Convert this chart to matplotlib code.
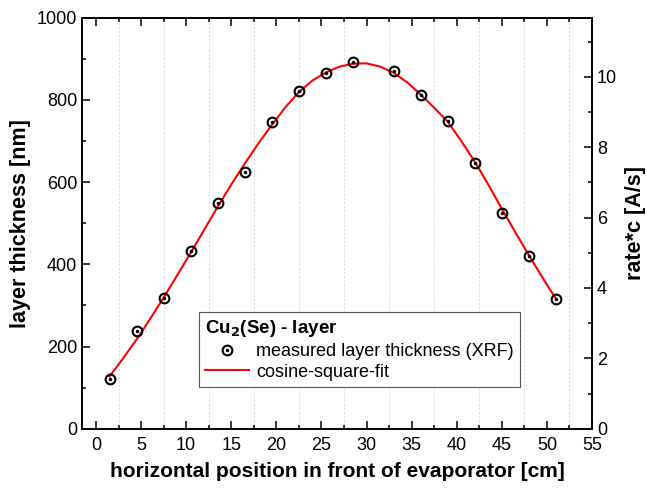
import matplotlib
matplotlib.use("Agg")
import matplotlib.pyplot as plt
from matplotlib.ticker import MultipleLocator

plt.rcParams['font.family'] = ['Liberation Sans', 'DejaVu Sans']

# --- measured data (XRF) ---
pos_mess = [1.5, 4.5, 7.5, 10.5, 13.5, 16.5, 19.5, 22.5, 25.5, 28.5,
            33, 36, 39, 42, 45, 48, 51]
dicke_mess = [120, 238, 318, 432, 548, 625, 747, 822, 866, 891,
              870, 813, 749, 647, 524, 420, 316]

# --- cosine-square fit ---
pos_fit = [1.5, 3, 4.5, 6, 7.5, 9, 10.5, 12, 13.5, 15, 16.5, 18, 19.5, 21,
           22.5, 24, 25.5, 27, 28.5, 30, 31.5, 33, 34.5, 36, 37.5, 39, 40.5,
           42, 43.5, 45, 46.5, 48, 49.5, 51]
dicke_fit = [127, 171, 217, 267, 319, 373, 428, 484, 540, 594, 645, 694, 739,
             782, 819, 847, 867, 881, 888, 889, 881, 866, 843, 813, 781, 747,
             700, 650, 594, 535, 478, 422, 368, 316]

fig = plt.figure(figsize=(6.47, 4.90), dpi=100)
ax = fig.add_axes([82/647, 1-428.7/490, (592-82)/647, (428.7-17.7)/490])

# griglia verticale solo sui minor tick
for xg in [2.5 + 5*i for i in range(11)]:
    ax.axvline(xg, color='#d9d9d9', lw=0.7, ls=(0, (2, 2)), zorder=0)

linea, = ax.plot(pos_fit, dicke_fit, color='red', lw=1.5, zorder=2)
cerchi, = ax.plot(pos_mess, dicke_mess, ls='none', marker='o', ms=7,
                  mfc='none', mec='black', mew=1.5, zorder=3)
punti, = ax.plot(pos_mess, dicke_mess, ls='none', marker='o', ms=1.5,
                 mfc='black', mec='black', zorder=4)

ax.set_xlim(-1.55, 55)
ax.set_ylim(0, 1000)
ax.xaxis.set_major_locator(MultipleLocator(5))
ax.xaxis.set_minor_locator(MultipleLocator(2.5))
ax.yaxis.set_major_locator(MultipleLocator(200))
ax.yaxis.set_minor_locator(MultipleLocator(100))
ax.tick_params(which='both', direction='in', top=True, right=False,
               width=1.1, labelsize=13)
ax.tick_params(which='major', length=5.5)
ax.tick_params(which='minor', length=3)
ax.tick_params(axis='x', pad=6)
for s in ax.spines.values():
    s.set_linewidth(1.2)

ax.set_xlabel("horizontal position in front of evaporator [cm]",
              fontsize=15, fontweight='bold', labelpad=6)
ax.set_ylabel("layer thickness [nm]", fontsize=15.5, fontweight='bold',
              labelpad=4)

ax2 = ax.twinx()
ax2.set_ylim(0, 11.68)
ax2.yaxis.set_major_locator(MultipleLocator(2))
ax2.yaxis.set_minor_locator(MultipleLocator(1))
ax2.tick_params(which='both', direction='in', width=1.1, labelsize=13)
ax2.tick_params(which='major', length=5.5)
ax2.tick_params(which='minor', length=3)
for s in ax2.spines.values():
    s.set_linewidth(1.2)
ax2.set_ylabel("rate*c [A/s]", fontsize=15.5, fontweight='bold', labelpad=6)

leg = ax2.legend([(cerchi, punti), linea],
                 ["measured layer thickness (XRF)", "cosine-square-fit"],
                 title="Cu$_\\mathbf{2}$(Se) - layer", loc='upper left',
                 bbox_to_anchor=(199/647, 1-312/490),
                 bbox_transform=fig.transFigure, borderaxespad=0,
                 fontsize=13, title_fontproperties={'weight': 'bold', 'size': 13.5},
                 alignment='left', fancybox=False, edgecolor='#555555',
                 framealpha=1, handlelength=2.4, borderpad=0.35,
                 labelspacing=0.2, handletextpad=0.4)
leg.get_frame().set_linewidth(0.8)

fig.savefig("out.png", dpi=100)
